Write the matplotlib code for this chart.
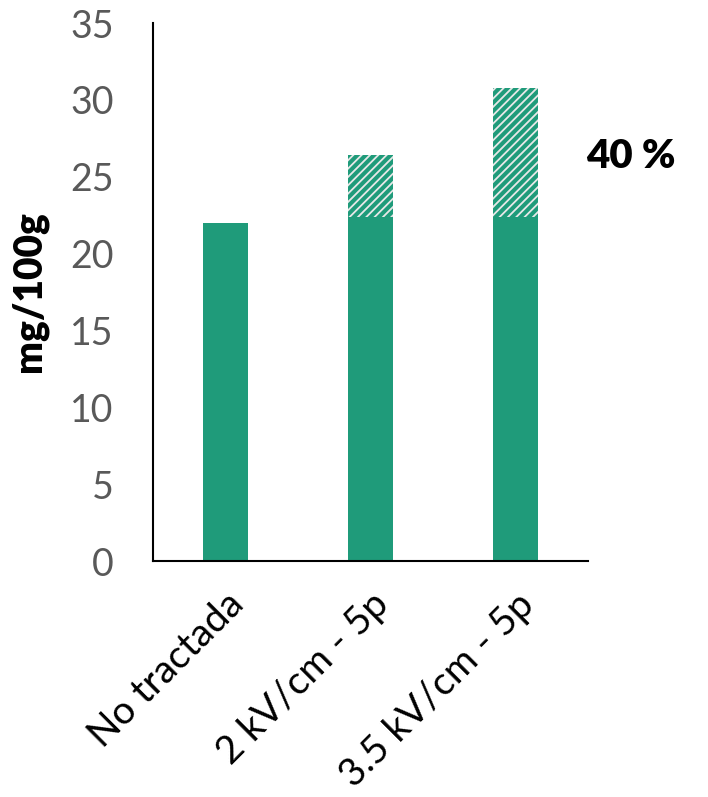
import matplotlib
matplotlib.use("Agg")
import matplotlib.pyplot as plt

categories = ["No tractada", "2 kV/cm - 5p", "3.5 kV/cm - 5p"]
base_values = [22.0, 22.4, 22.4]
total_values = [22.0, 26.4, 30.8]
yticks = [0, 5, 10, 15, 20, 25, 30, 35]
annotation = "40 %"

green = "#1f9b7a"
plt.rcParams['font.family'] = ['Lato', 'DejaVu Sans']
plt.rcParams['hatch.color'] = '#e8e8e8'
plt.rcParams['hatch.linewidth'] = 1.3

fig = plt.figure(figsize=(7.08, 7.97), dpi=100)
ax = fig.add_axes([152.5/708, 1 - 561/797, (588-152.5)/708, (561-23)/797])

x = list(range(len(categories)))
ax.bar(x, base_values, width=0.31, color=green, edgecolor='none', zorder=2)
extra = [t - b for t, b in zip(total_values, base_values)]
ax.bar(x, extra, bottom=base_values, width=0.31, color=green,
       edgecolor='#e8e8e8', hatch='////', linewidth=0, zorder=2)

ax.set_xlim(-0.5, 2.5)
ax.set_ylim(0, 35)
ax.set_yticks(yticks)
ax.set_yticklabels([str(v) for v in yticks], fontsize=27, color='#595959')
ax.set_xticks(x)
ax.set_xticklabels(categories, rotation=45, ha='right', rotation_mode='anchor',
                   fontsize=28, color='black')
ax.tick_params(axis='y', length=0, pad=28)
ax.tick_params(axis='x', length=0, pad=18)
for s in ['top', 'right']:
    ax.spines[s].set_visible(False)
for s in ['left', 'bottom']:
    ax.spines[s].set_linewidth(1.5)
    ax.spines[s].set_color('black')

ax.set_ylabel("mg/100g", fontsize=28, fontweight='heavy', labelpad=16)
fig.text(631/708, 1 - 157/797, annotation, fontsize=29, fontweight='heavy',
         ha='center', va='center')

fig.savefig("out.png", dpi=100)
